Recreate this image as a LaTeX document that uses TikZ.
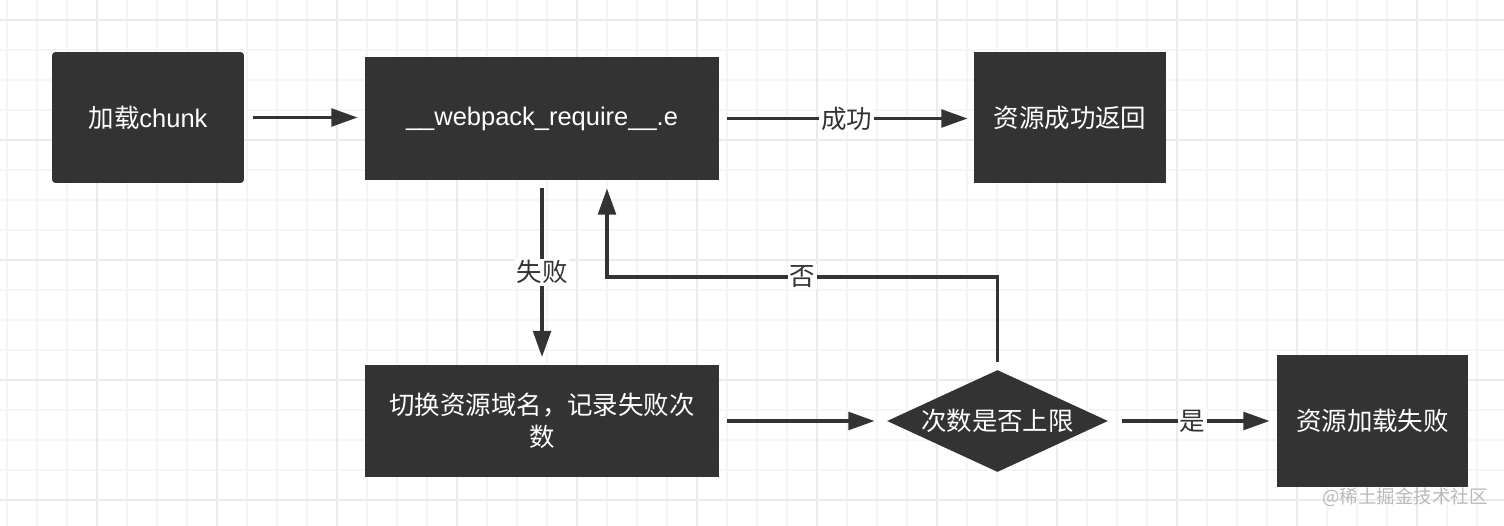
\documentclass[tikz,border=0pt]{standalone}
\usepackage{fontspec}
\setmainfont{Liberation Sans}
\newfontfamily\cjk{Noto Sans CJK SC}
\usetikzlibrary{arrows.meta,shapes.geometric}
\definecolor{boxgray}{HTML}{333333}
\definecolor{gridminor}{HTML}{F5F5F5}
\definecolor{gridmajor}{HTML}{EBEBEB}

\tikzset{
  box/.style={fill=boxgray, text=white, inner sep=0pt, align=center,
    font=\fontsize{14.5}{18}\selectfont},
  cjkbox/.style={box, font=\fontsize{14.5}{18}\selectfont\cjk},
  link/.style={draw=boxgray, line width=2.2pt, -{Triangle[length=15pt,width=10pt]}},
  lbl/.style={fill=white, text=boxgray, inner sep=1pt, font=\fontsize{14.5}{18}\selectfont\cjk}
}

\begin{document}
\begin{tikzpicture}[x=0.02cm, y=-0.02cm]
    \useasboundingbox (0,0) rectangle (1504,526);
    \fill[white] (0,0) rectangle (1504,526);
    % background grid
    \foreach \gx in {7,37,...,1500} \draw[gridminor, line width=1pt] (\gx,0) -- (\gx,526);
    \foreach \gy in {20,50,...,520} \draw[gridminor, line width=1pt] (0,\gy) -- (1504,\gy);
    \foreach \gx in {97,217,...,1500} \draw[gridmajor, line width=1.4pt] (\gx,0) -- (\gx,526);
    \foreach \gy in {20,140,...,520} \draw[gridmajor, line width=1.4pt] (0,\gy) -- (1504,\gy);

    \node[box, minimum width=3.84cm, minimum height=2.62cm, rounded corners=2pt] (load) at (148,117.5) {{\cjk 加载}chunk};
    \node[box, minimum width=7.08cm, minimum height=2.46cm] (req) at (542,118.5) {\_\_webpack\_require\_\_.e};
    \node[cjkbox, minimum width=3.84cm, minimum height=2.62cm] (ok) at (1070,117.5) {资源成功返回};
    \node[cjkbox, minimum width=7.08cm, minimum height=2.26cm] (switch) at (542,421) {切换资源域名，记录失败次\\数};
    \node[cjkbox, diamond, aspect=2.2, minimum width=4.42cm, minimum height=2.04cm] (limit) at (997.5,421) {次数是否上限};
    \node[cjkbox, minimum width=3.82cm, minimum height=2.64cm] (fail) at (1372.5,421) {资源加载失败};

    \draw[link, shorten <=0.18cm, shorten >=0.14cm] (load.east) -- (req.west |- load.east);
    \draw[link, shorten <=0.16cm, shorten >=0.12cm] (req.east) -- node[lbl] {成功} (ok.west |- req.east);
    \draw[link, shorten <=0.16cm, shorten >=0.14cm] (req.south) -- node[lbl] {失败} (switch.north);
    \draw[link, shorten <=0.16cm, shorten >=0.24cm] (switch.east) -- (limit.west);
    \draw[link, shorten <=0.28cm, shorten >=0.14cm] (limit.east) -- node[lbl] {是} (fail.west);
    \coordinate (back) at (607,277);
    \draw[link, shorten <=0.16cm, shorten >=0.16cm] (limit.north) -- (limit.north |- back) -- node[lbl] {否} (back) -- (back |- req.south);

    \node[text=gray!55, font=\fontsize{10.5}{12}\selectfont\cjk] (mark) at (1405,497) {@稀土掘金技术社区};
\end{tikzpicture}
\end{document}
